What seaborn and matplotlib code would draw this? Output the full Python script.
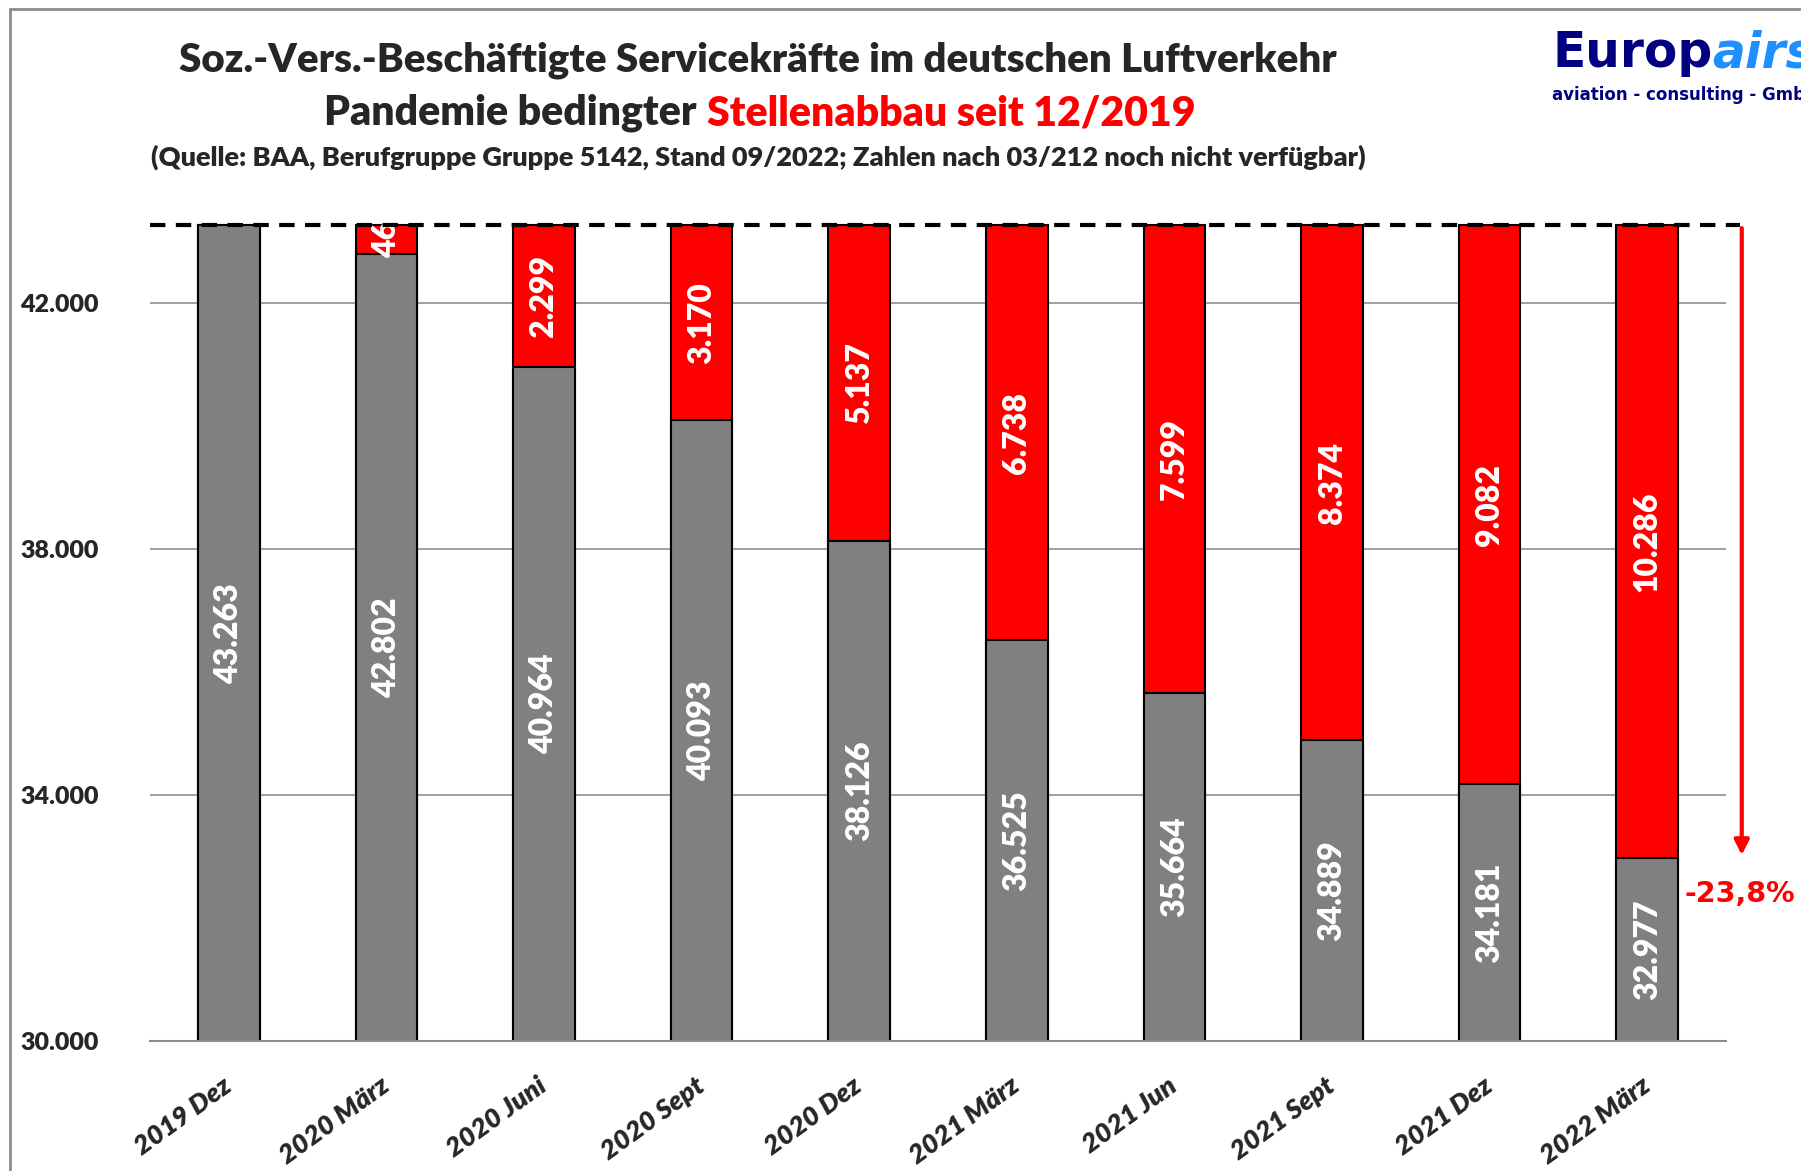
import numpy as np
import pandas as pd
import matplotlib
matplotlib.use("Agg")
import matplotlib.pyplot as plt
import matplotlib.transforms as mtransforms
from matplotlib.lines import Line2D
import seaborn as sns

sns.set_style("white")
plt.rcParams['font.family'] = ['Lato', 'DejaVu Sans']

# Daten (BAA, Berufsgruppe 5142)
quartale = ["2019 Dez", "2020 März", "2020 Juni", "2020 Sept", "2020 Dez",
            "2021 März", "2021 Jun", "2021 Sept", "2021 Dez", "2022 März"]
beschaeftigte = [43263, 42802, 40964, 40093, 38126, 36525, 35664, 34889, 34181, 32977]
abbau = [0, 461, 2299, 3170, 5137, 6738, 7599, 8374, 9082, 10286]
abbau_labels = ["", "46", "2.299", "3.170", "5.137", "6.738", "7.599", "8.374", "9.082", "10.286"]
y_ticks = [30000, 34000, 38000, 42000]
basis = 43263
rueckgang = "-23,8%"

df = pd.DataFrame({"quartal": quartale, "besch": beschaeftigte, "abbau": abbau})
df["gesamt"] = df["besch"] + df["abbau"]

W, H = 1801, 1171
FW = "heavy"
fig = plt.figure(figsize=(W / 100, H / 100), dpi=100)
ax = fig.add_axes([150 / W, 1 - 1041 / H, (1726 - 150) / W, (1041 - 180) / H])

sns.barplot(data=df, x="quartal", y="gesamt", color="#ff0000", saturation=1, width=0.39,
            edgecolor="black", linewidth=1.5, errorbar=None, ax=ax)
sns.barplot(data=df, x="quartal", y="besch", color="#808080", saturation=1, width=0.39,
            edgecolor="black", linewidth=1.5, errorbar=None, ax=ax)

ax.set_ylim(30000, 44000)
ax.set_xlim(-0.5, 9.5)
ax.set_xlabel("")
ax.set_ylabel("")


def fmt(v):
    return f"{v:,}".replace(",", ".")


for i, (b, a, lab) in enumerate(zip(beschaeftigte, abbau, abbau_labels)):
    ax.text(i, (30000 + b) / 2, fmt(b), rotation=90, ha="center", va="center",
            color="white", fontsize=23, fontweight=FW, zorder=6)
    if a:
        ax.text(i, b + a / 2, lab, rotation=90, ha="center", va="center",
                color="white", fontsize=23, fontweight=FW, zorder=6)

# y-Achse
ax.set_yticks(y_ticks)
ax.set_yticklabels([fmt(v) for v in y_ticks], fontweight=FW, fontsize=18)
ax.tick_params(axis="y", length=0, pad=37)
ax.yaxis.grid(True, color="#999999", lw=1.3)
ax.set_axisbelow(True)

# x-Achse
ax.set_xticks(range(len(quartale)))
ax.set_xticklabels(quartale, rotation=36, ha="right", va="center", rotation_mode="anchor",
                   fontweight=FW, fontstyle="italic", fontsize=19.5)
ax.tick_params(axis="x", which="major", length=0, pad=30)
ax.set_xticks(np.arange(-0.5, len(quartale), 1), minor=True)
ax.tick_params(axis="x", which="minor", length=9, width=1.5, color="#8c8c8c", direction="out")
shift = mtransforms.ScaledTranslation(0, 0, fig.dpi_scale_trans)
for lab in ax.get_xticklabels():
    lab.set_transform(lab.get_transform() + shift)

sns.despine(ax=ax, left=True)
ax.spines["bottom"].set_color("#8c8c8c")
ax.spines["bottom"].set_linewidth(1.5)

# Ausgangsniveau + Pfeil
ax.plot([-0.5, 9.59], [basis, basis], color="black", lw=3, ls=(0, (3.7, 2.5)),
        clip_on=False, zorder=7)
ax.annotate("", xy=(9.6, beschaeftigte[-1]), xytext=(9.6, basis),
            arrowprops=dict(arrowstyle="-|>", color="red", lw=3, mutation_scale=22),
            annotation_clip=False)
ax.text(9.59, 32390, rueckgang, color="red", fontsize=20.5, fontweight="bold",
        ha="center", va="center", family=["DejaVu Sans"], clip_on=False)

# Titel
fig.text(758 / W, 1 - 60 / H, "Soz.-Vers.-Beschäftigte Servicekräfte im deutschen Luftverkehr",
         ha="center", va="center", fontsize=29, fontweight=FW)
fig.text(758 / W, 1 - 157 / H,
         "(Quelle: BAA, Berufgruppe Gruppe 5142, Stand 09/2022; Zahlen nach 03/212 noch nicht verfügbar)",
         ha="center", va="center", fontsize=19.5, fontweight=FW)

t1 = fig.text(0, 1 - 113 / H, "Pandemie bedingter", ha="left", va="center",
              fontsize=29.5, fontweight=FW)
t2 = fig.text(0, 1 - 113 / H, "Stellenabbau seit 12/2019", ha="left", va="center",
              fontsize=29.5, fontweight=FW, color="red")

# Logo
l1 = fig.text(1552 / W, 1 - 67 / H, "Europ", ha="left", va="baseline", fontsize=35,
              fontweight="bold", color="#000080", family=["DejaVu Sans"])
l2 = fig.text(0, 1 - 67 / H, "airs", ha="left", va="baseline", fontsize=35,
              fontweight="bold", fontstyle="italic", color="#1e8fff", family=["DejaVu Sans"])
fig.text(1552 / W, 1 - 100 / H, "aviation - consulting - GmbH", ha="left", va="baseline",
         fontsize=12, fontweight="bold", color="#000080", family=["DejaVu Sans"])

fig.canvas.draw()
r = fig.canvas.get_renderer()
w1 = t1.get_window_extent(r).width
w2 = t2.get_window_extent(r).width
gap = 10
start = 760 - (w1 + gap + w2) / 2
t1.set_x(start / W)
t2.set_x((start + w1 + gap) / W)
l2.set_x((1552 + l1.get_window_extent(r).width) / W)

# Rahmen
fig.add_artist(Line2D([10 / W, 1], [1 - 9 / H] * 2, color="#8c8c8c", lw=2, transform=fig.transFigure))
fig.add_artist(Line2D([10 / W] * 2, [0, 1 - 9 / H], color="#8c8c8c", lw=2, transform=fig.transFigure))

fig.savefig("out.png", dpi=100)
